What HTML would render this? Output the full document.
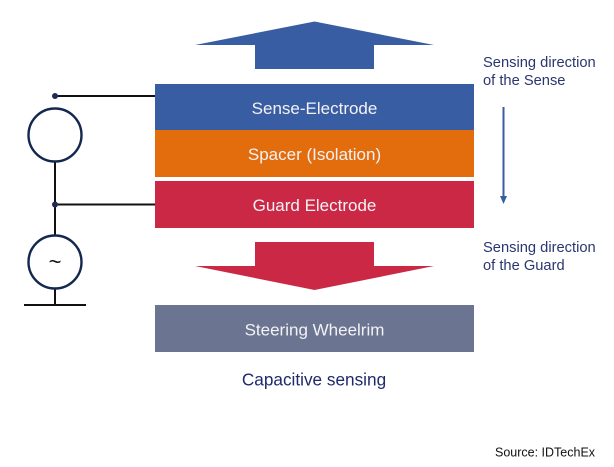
<!DOCTYPE html>
<html><head><meta charset="utf-8"><style>
html,body{margin:0;padding:0;background:#fff}
svg{display:block}
text{font-family:"Liberation Sans",Arial,sans-serif}
</style></head><body>
<svg width="614" height="467" viewBox="0 0 614 467" xmlns="http://www.w3.org/2000/svg">
<rect x="155" y="84" width="319" height="46" fill="#385da2"/>
<rect x="155" y="130" width="319" height="47" fill="#e36c0d"/>
<rect x="155" y="181" width="319" height="47" fill="#cb2846"/>
<rect x="155" y="305" width="319" height="47" fill="#6b7490"/>
<polygon points="314.5,21.5 434,45 374,45 374,69 255,69 255,45 195,45" fill="#385da2"/>
<polygon points="255,242 374,242 374,266 434,266 314.5,290 195,266 255,266" fill="#cb2846"/>
<g fill="none" stroke="#111" stroke-width="2">
<line x1="55" y1="96" x2="155" y2="96"/>
<line x1="55" y1="204.5" x2="155" y2="204.5"/>
<line x1="55" y1="161" x2="55" y2="236"/>
<line x1="55" y1="288" x2="55" y2="305"/>
<line x1="24" y1="305" x2="86" y2="305"/>
</g>
<circle cx="55" cy="135" r="26.5" fill="#fff" stroke="#14284f" stroke-width="2.4"/>
<circle cx="55" cy="262" r="26.5" fill="#fff" stroke="#14284f" stroke-width="2.4"/>
<circle cx="55" cy="96" r="3" fill="#1f2a55"/>
<circle cx="55" cy="204.5" r="3" fill="#1f2a55"/>
<text x="55" y="269" font-size="22" text-anchor="middle" fill="#111">~</text>
<line x1="503.5" y1="107" x2="503.5" y2="198" stroke="#385da2" stroke-width="2"/>
<polygon points="500,196 507,196 503.5,204" fill="#385da2"/>
<g font-size="17" fill="#f3f3f6" text-anchor="middle">
<text x="314.5" y="114">Sense-Electrode</text>
<text x="314.5" y="160">Spacer (Isolation)</text>
<text x="314.5" y="211">Guard Electrode</text>
<text x="314.5" y="335.5">Steering Wheelrim</text>
</g>
<g font-size="14.7" fill="#2a3670">
<text x="483" y="67">Sensing direction</text>
<text x="483" y="85">of the Sense</text>
<text x="483" y="252">Sensing direction</text>
<text x="483" y="270">of the Guard</text>
</g>
<text x="314" y="385.5" font-size="17.2" fill="#1f2a6b" text-anchor="middle">Capacitive sensing</text>
<text x="495" y="456.5" font-size="12.5" fill="#111">Source: IDTechEx</text>
</svg>
</body></html>
